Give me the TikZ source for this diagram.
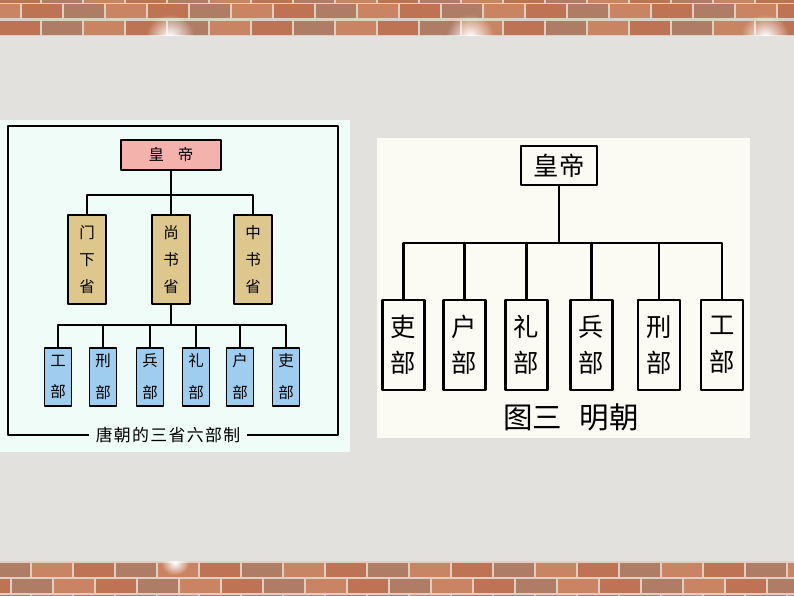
\documentclass[tikz,border=0pt]{standalone}
\usepackage{fontspec}
\newfontfamily\cjk{Noto Sans CJK SC}
\newfontfamily\cjkcap[LetterSpace=8]{Noto Sans CJK SC}
\usetikzlibrary{fadings}
\definecolor{wallgray}{HTML}{E3E1DE}
\definecolor{mortar}{HTML}{DDD0C2}
\definecolor{brick0}{HTML}{BE7454}
\definecolor{brick1}{HTML}{AF7C66}
\definecolor{brick2}{HTML}{C98563}
\definecolor{tangbg}{HTML}{EFFCF8}
\definecolor{mingbg}{HTML}{FBFAF3}
\definecolor{tangemp}{HTML}{F4B2AC}
\definecolor{tangsheng}{HTML}{DEC78D}
\definecolor{tangbu}{HTML}{9FCDEF}
\tikzfading[name=glow, inner color=transparent!0, outer color=transparent!100]
\begin{document}
\begin{tikzpicture}[x=0.025cm, y=-0.025cm, line join=round, line cap=round,
	tbox/.style={draw=black, line width=1.3pt, inner sep=0pt, align=center},
	tlink/.style={line width=1.3pt},
	mbox/.style={draw=black, line width=2pt, fill=mingbg, inner sep=0pt, align=center},
	mlink/.style={line width=2pt}]
	\useasboundingbox (0,0) rectangle (794,596);
	% wall and bricks
	\fill[wallgray] (0,36) rectangle (794,561);
	\begin{scope}
		\clip (0,0) rectangle (794,36) (0,561) rectangle (794,596);
		\fill[mortar] (0,0) rectangle (794,36) (0,561) rectangle (794,596);
		\foreach \y/\o in {-11/0, 4/20, 21/0, 563/10, 579/30, 595/10}
		\foreach \i in {0,...,20} {
			\pgfmathtruncatemacro\k{mod(\i*7+\o,3)}
			\fill[brick\k] (\i*42-\o,\y) rectangle ++(40,14);
		}
		\foreach \x in {170,470,765}
		\fill[white, path fading=glow] (\x,36) ellipse (24 and 22);
		\fill[white, path fading=glow] (175,563) ellipse (14 and 12);
	\end{scope}
	% Tang
	\fill[tangbg] (0,120) rectangle (350,452);
	\draw[line width=0.8pt] (8,126) rectangle (338,435);
	\node[fill=tangbg, inner xsep=5pt, font=\cjkcap\fontsize{12}{12}\selectfont] (t-cap) at (168,435) {唐朝的三省六部制};
	\node[tbox, fill=tangemp, minimum width=2.5cm, minimum height=0.75cm, font=\cjk\fontsize{11}{11}\selectfont] (t-emp) at (171,155) {皇\hspace{0.9em}帝};
	\node[tbox, fill=tangsheng, minimum width=0.95cm, minimum height=2.225cm, font=\cjk\fontsize{11}{19}\selectfont] (t-men) at (87,259.5) {门\\下\\省};
	\node[tbox, fill=tangsheng, minimum width=0.95cm, minimum height=2.225cm, font=\cjk\fontsize{11}{19}\selectfont] (t-shang) at (171,259.5) {尚\\书\\省};
	\node[tbox, fill=tangsheng, minimum width=0.95cm, minimum height=2.225cm, font=\cjk\fontsize{11}{19}\selectfont] (t-zhong) at (253,259.5) {中\\书\\省};
	\foreach \n/\x/\t in {gong/58/工, xing/103/刑, bing/150/兵, li3/196/礼, hu/240/户, li4/286/吏}
	\node[tbox, fill=tangbu, minimum width=0.675cm, minimum height=1.45cm, font=\cjk\fontsize{11}{22.7}\selectfont] (t-\n) at (\x,377) {\t\\部};
	\coordinate (t-bus1) at (171,195);
	\coordinate (t-bus2) at (171,325);
	\draw[tlink] (t-emp.south) -- (t-shang.north);
	\draw[tlink] (t-men.north) |- (t-bus1) -| (t-zhong.north);
	\draw[tlink] (t-shang.south) -- (t-bus2);
	\draw[tlink] (t-gong.north) |- (t-bus2) -| (t-li4.north);
	\foreach \n in {xing,bing,li3,hu}
	\draw[tlink] (t-\n.north) -- (t-\n.north |- t-bus2);
	% Ming
	\fill[mingbg] (377,138) rectangle (750,438);
	\node[mbox, minimum width=1.9cm, minimum height=0.975cm, font=\cjk\fontsize{18}{18}\selectfont] (m-emp) at (559,165.5) {皇帝};
	\foreach \n/\x/\t in {li4/403.5/吏, hu/464.5/户, li3/526.5/礼, bing/591.5/兵, xing/659/刑, gong/722/工}
	\node[mbox, minimum width=1.05cm, minimum height=2.25cm, font=\cjk\fontsize{18}{26}\selectfont] (m-\n) at (\x,345) {\t\\部};
	\coordinate (m-bus) at (559,243);
	\draw[mlink] (m-emp.south) -- (m-bus);
	\draw[mlink] (m-li4.north) |- (m-bus) -| (m-gong.north);
	\foreach \n in {hu,li3,bing,xing}
	\draw[mlink] (m-\n.north) -- (m-\n.north |- m-bus);
	\node[font=\cjk\fontsize{21}{21}\selectfont] (m-cap) at (571,417) {图三\hspace{0.6em}明朝};
\end{tikzpicture}
\end{document}
